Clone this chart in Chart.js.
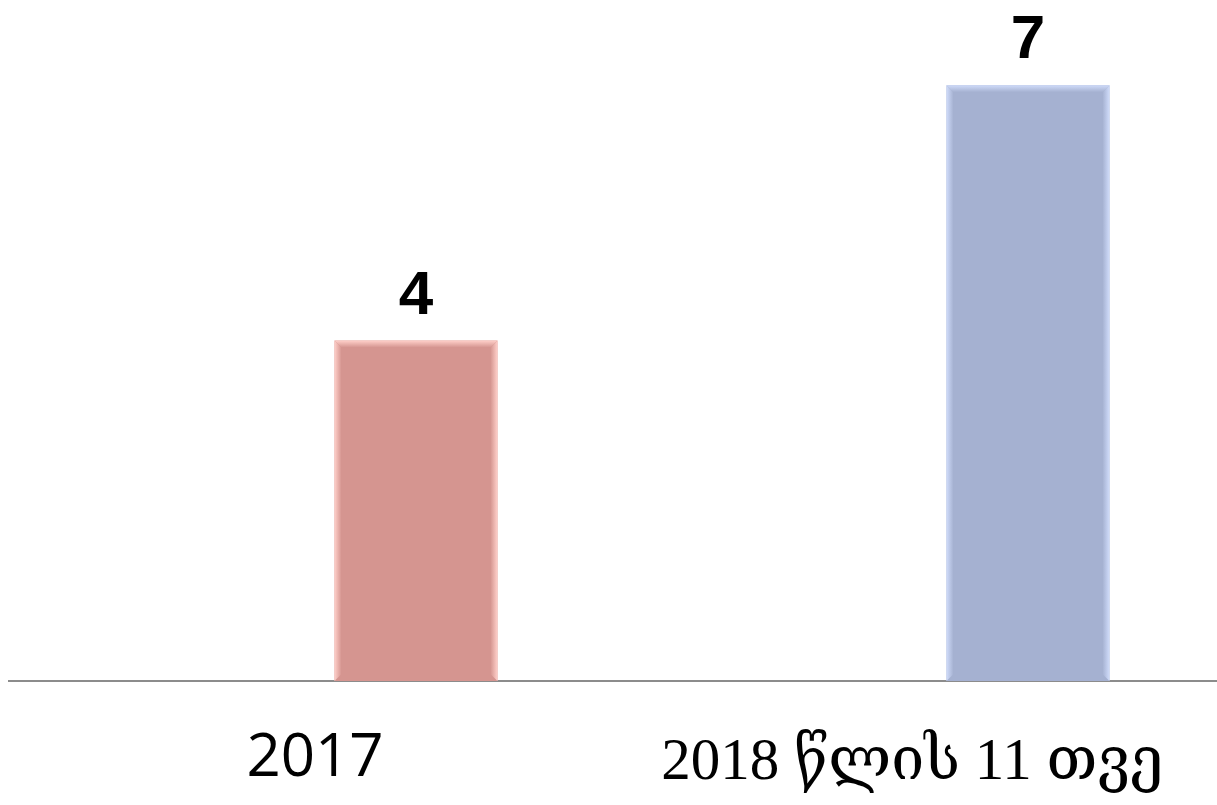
<!DOCTYPE html>
<html>
<head>
<meta charset="utf-8">
<script src="https://cdn.jsdelivr.net/npm/chart.js@4"></script>
<style>
  html, body { margin: 0; padding: 0; background: #fff; overflow: hidden; }
  #wrap { width: 1240px; height: 805px; }
</style>
</head>
<body>
<div id="wrap"><canvas id="myChart"></canvas></div>
<script>
// categories and values
const categories = ["2017", "2018 წლის 11 თვე"];
const values = [4, 7];
// empty slot so the bars sit right of the label centre like in the original
const spacer = [null, null];
const barColors = ["#d59590", "#a5b1d1"];
const edgeColors = ["#ffd0ca", "#d0dcfa"];

// bevel strips on the bar edges
const bevel = {
  id: "bevel",
  afterDatasetsDraw(chart) {
    const ctx = chart.ctx;
    const meta = chart.getDatasetMeta(1);
    meta.data.forEach((bar, i) => {
      const left = bar.x - bar.width / 2;
      const right = bar.x + bar.width / 2;
      const top = bar.y;
      const bottom = bar.base;
      const e = 7;
      ctx.save();
      let g = ctx.createLinearGradient(left, 0, left + e, 0);
      g.addColorStop(0, edgeColors[i]);
      g.addColorStop(1, barColors[i]);
      ctx.fillStyle = g;
      ctx.beginPath();
      ctx.moveTo(left, top); ctx.lineTo(left + e, top + e);
      ctx.lineTo(left + e, bottom - e); ctx.lineTo(left, bottom);
      ctx.closePath(); ctx.fill();
      g = ctx.createLinearGradient(right, 0, right - e, 0);
      g.addColorStop(0, edgeColors[i]);
      g.addColorStop(1, barColors[i]);
      ctx.fillStyle = g;
      ctx.beginPath();
      ctx.moveTo(right, top); ctx.lineTo(right - e, top + e);
      ctx.lineTo(right - e, bottom - e); ctx.lineTo(right, bottom);
      ctx.closePath(); ctx.fill();
      g = ctx.createLinearGradient(0, top, 0, top + e);
      g.addColorStop(0, edgeColors[i]);
      g.addColorStop(1, barColors[i]);
      ctx.fillStyle = g;
      ctx.beginPath();
      ctx.moveTo(left, top); ctx.lineTo(right, top);
      ctx.lineTo(right - e, top + e); ctx.lineTo(left + e, top + e);
      ctx.closePath(); ctx.fill();
      ctx.restore();
    });
  }
};

// value labels above the bars
const valueLabels = {
  id: "valueLabels",
  afterDatasetsDraw(chart) {
    const ctx = chart.ctx;
    const meta = chart.getDatasetMeta(1);
    ctx.save();
    ctx.fillStyle = "#000";
    ctx.font = "bold 62px 'Liberation Sans', Arial, sans-serif";
    ctx.textAlign = "center";
    ctx.textBaseline = "alphabetic";
    meta.data.forEach((bar, i) => {
      ctx.fillText(String(values[i]), bar.x, bar.y - 27);
    });
    ctx.restore();
  }
};

new Chart("myChart", {
  type: "bar",
  data: {
    labels: categories,
    datasets: [
      { data: spacer, backgroundColor: "rgba(0,0,0,0)" },
      { data: values, backgroundColor: barColors }
    ]
  },
  options: {
    responsive: true,
    maintainAspectRatio: false,
    animation: false,
    categoryPercentage: 0.66,
    barPercentage: 0.807,
    layout: { padding: { left: 9, right: 7, top: 0, bottom: 0 } },
    plugins: { legend: { display: false }, tooltip: { enabled: false } },
    scales: {
      x: {
        grid: { display: false, drawTicks: false },
        border: { display: true, color: "#8c8c8c", width: 2 },
        afterFit: (scale) => { scale.height = 124; },
        ticks: {
          color: "#000",
          padding: 42,
          maxRotation: 0,
          // second label sits a bit left of its slot in the original
          callback: (v, i) => i === 1 ? categories[i] + "\u2002" : categories[i],
          font: (c) => c.index === 1
            ? { family: "'Liberation Serif', 'DejaVu Serif', serif", size: 59, lineHeight: 1.37 }
            : { family: "'Open Sans', sans-serif", size: 60 }
        }
      },
      y: { display: false, min: 0, max: 8 }
    }
  },
  plugins: [bevel, valueLabels]
});
</script>
</body>
</html>
